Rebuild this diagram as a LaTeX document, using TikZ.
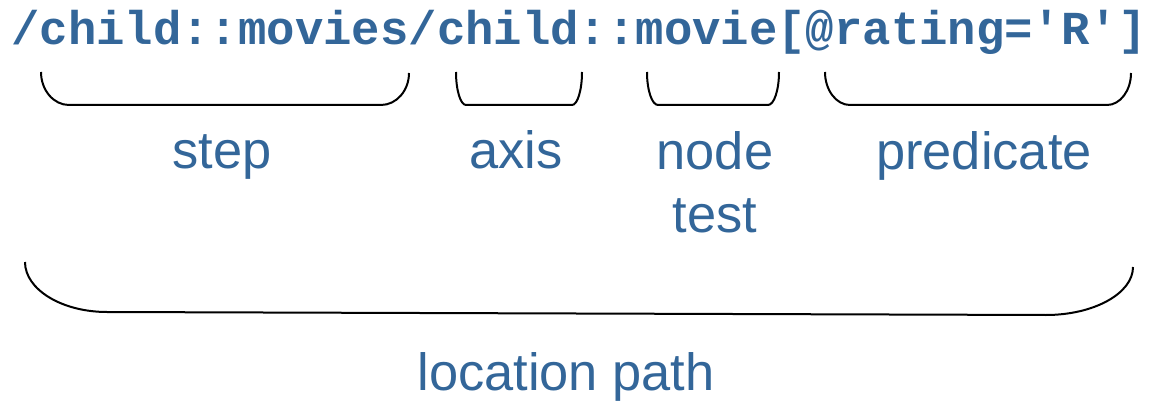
\documentclass[tikz,border=0pt]{standalone}
\usepackage{fontspec}
\setmainfont{Liberation Sans}
\newfontfamily\pathfont{Liberation Mono}[BoldFont={Liberation Mono Bold}]
\usetikzlibrary{calc}
\definecolor{xpblue}{HTML}{336699}

% U-shaped brace: x1, y1 (left top), x2, y2 (right top), left bottom, right bottom, left radius, right radius
\newcommand{\ubrace}[8]{%
  \draw[bsty] (#1,#2) .. controls (#1,{#2+0.55*(#5-#2)}) and ({#1+0.45*#7},#5) .. ({#1+#7},#5)
    -- ({#3-#8},#6) .. controls ({#3-0.45*#8},#6) and (#3,{#4+0.55*(#6-#4)}) .. (#3,#4);}

\begin{document}
\begin{tikzpicture}
                [x=1pt, y=-1pt,
                psty/.style={inner sep=0, anchor=base, text=xpblue, font=\pathfont\bfseries\fontsize{47.3}{50}\selectfont},
                lsty/.style={inner sep=0, anchor=base, text=xpblue, font=\fontsize{52.4}{63}\selectfont},
                bsty/.style={draw=black, line width=2pt}]
                \useasboundingbox (0,0) rectangle (1157,401);
                % expression
                \node[psty] (expr) at (579,45) {/child::movies/child::movie[@rating='R']};
                % braces
                \ubrace{41}{72}{409}{73}{105}{105}{28}{28}
                \ubrace{456}{72}{582}{72}{105}{105}{10}{10}
                \ubrace{647}{72}{779}{72}{105}{105}{11}{11}
                \ubrace{825}{72}{1131}{73}{105}{105}{25}{24}
                \ubrace{25}{262}{1133}{267}{312}{315}{82}{87}
                % labels
                \node[lsty] (step) at (222,168) {step};
                \node[lsty] (axis) at (516,168) {axis};
                \node[lsty, align=center] (test) at (715,232) {node\\test};
                \node[lsty] (pred) at (984,169) {predicate};
                \node[lsty] (loc) at (566,390) {location path};
            \end{tikzpicture}
\end{document}
